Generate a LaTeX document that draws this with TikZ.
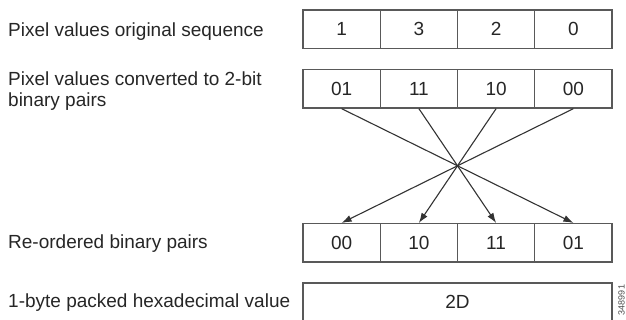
\documentclass[tikz,border=0pt]{standalone}
\usepackage{fontspec}
\setmainfont{Liberation Sans}
\usetikzlibrary{arrows.meta}
\begin{document}
\begin{tikzpicture}[x=1pt,y=-1pt,
  lbl/.style={anchor=base west, inner sep=0pt, font=\fontsize{19}{21.5}\selectfont, text=black!85, align=left},
  cell/.style={draw=black!65, line width=1.2pt, minimum width=77.25pt, minimum height=38.5pt, inner sep=0pt, font=\fontsize{19}{22}\selectfont, text=black!85},
  arr/.style={draw=black!80, line width=1.1pt, -{Latex[length=10pt,width=7pt]}},
  tag/.style={rotate=90, inner sep=0pt, font=\fontsize{9}{10}\selectfont, text=black!70}]
\useasboundingbox (0,0) rectangle (626,320);

% labels
\node[lbl] (l1) at (8,36.7) {Pixel values original sequence};
\node[lbl] (l2) at (8,107) {Pixel values converted to 2-bit\\binary pairs};
\node[lbl] (l3) at (8,248.3) {Re-ordered binary pairs};
\node[lbl] (l4) at (8,307.3) {1-byte packed hexadecimal value};

% row 1
\node[cell] (a1) at (341.6,29.2) {1};
\node[cell] (a2) at (418.9,29.2) {3};
\node[cell] (a3) at (496.1,29.2) {2};
\node[cell] (a4) at (573.4,29.2) {0};

% row 2
\node[cell] (b1) at (341.6,88.8) {01};
\node[cell] (b2) at (418.9,88.8) {11};
\node[cell] (b3) at (496.1,88.8) {10};
\node[cell] (b4) at (573.4,88.8) {00};

% row 3
\node[cell] (c1) at (341.6,242.8) {00};
\node[cell] (c2) at (418.9,242.8) {10};
\node[cell] (c3) at (496.1,242.8) {11};
\node[cell] (c4) at (573.4,242.8) {01};

% row 4
\node[cell, minimum width=309pt] (d) at (457.5,302.3) {2D};

% tag
\node[tag] (t) at (621.5,300) {348991};

% connectors
\draw[arr] (b1.south) -- (c4.north);
\draw[arr] (b2.south) -- (c3.north);
\draw[arr] (b3.south) -- (c2.north);
\draw[arr] (b4.south) -- (c1.north);
\end{tikzpicture}
\end{document}
